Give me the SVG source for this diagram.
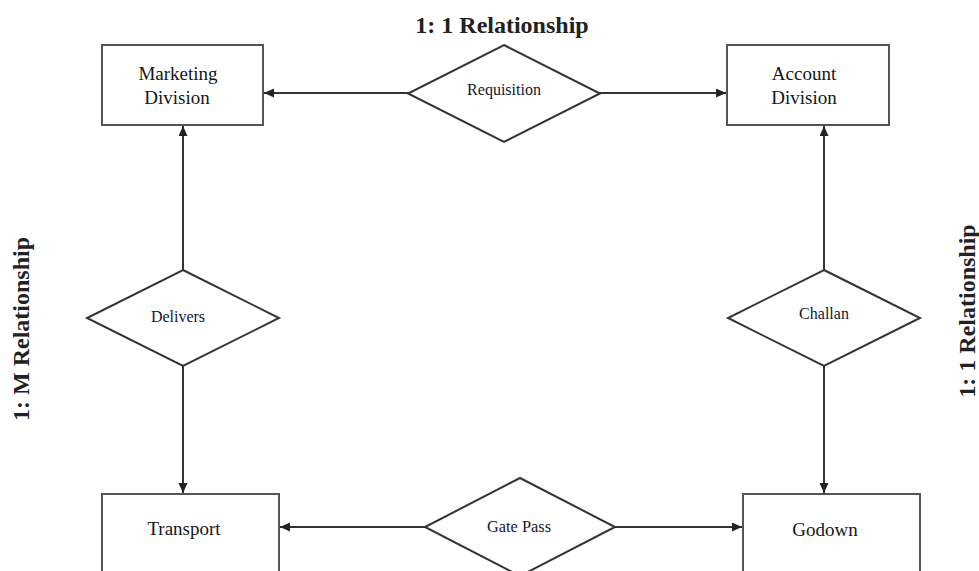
<svg xmlns="http://www.w3.org/2000/svg" width="979" height="571" viewBox="0 0 979 571">
<style>
.box{fill:#fff;stroke:#555;stroke-width:2}
.dia{fill:#fff;stroke:#333;stroke-width:2}
.con{stroke:#333;stroke-width:2;fill:none}
.lbl{font-family:"Liberation Serif","Times New Roman",serif;font-size:19px;fill:#151520;text-anchor:middle}
.dl{font-family:"Liberation Serif","Times New Roman",serif;font-size:16px;fill:#151530;text-anchor:middle}
.ttl{font-family:"Liberation Serif","Times New Roman",serif;font-size:24px;font-weight:bold;fill:#222;text-anchor:middle}
</style>
<defs>
<marker id="arr" markerUnits="userSpaceOnUse" markerWidth="11" markerHeight="10" refX="10" refY="4.5" orient="auto">
<path d="M0,0 L10,4.5 L0,9 z" fill="#222"/>
</marker>
</defs>
<rect width="979" height="571" fill="#fff"/>
<text class="ttl" x="502" y="33">1: 1 Relationship</text>
<text class="ttl" transform="translate(29,329) rotate(-90)">1: M Relationship</text>
<text class="ttl" transform="translate(975,311) rotate(-90)">1: 1 Relationship</text>
<g id="connectors">
<line class="con" x1="408" y1="93" x2="264" y2="93" marker-end="url(#arr)"/>
<line class="con" x1="600" y1="93" x2="726" y2="93" marker-end="url(#arr)"/>
<line class="con" x1="183" y1="270" x2="183" y2="126" marker-end="url(#arr)"/>
<line class="con" x1="183" y1="366" x2="183" y2="493" marker-end="url(#arr)"/>
<line class="con" x1="824" y1="270" x2="824" y2="126" marker-end="url(#arr)"/>
<line class="con" x1="824" y1="366" x2="824" y2="493" marker-end="url(#arr)"/>
<line class="con" x1="425" y1="527" x2="280" y2="527" marker-end="url(#arr)"/>
<line class="con" x1="615" y1="527" x2="742" y2="527" marker-end="url(#arr)"/>
</g>
<g id="marketing">
<rect class="box" x="102" y="45" width="161" height="80"/>
<text class="lbl" x="178" y="80">Marketing</text>
<text class="lbl" x="177" y="104">Division</text>
</g>
<g id="account">
<rect class="box" x="727" y="45" width="162" height="80"/>
<text class="lbl" x="804" y="80">Account</text>
<text class="lbl" x="804" y="104">Division</text>
</g>
<g id="transport">
<rect class="box" x="102" y="494" width="177" height="100"/>
<text class="lbl" x="184" y="535">Transport</text>
</g>
<g id="godown">
<rect class="box" x="743" y="494" width="177" height="100"/>
<text class="lbl" x="825" y="536">Godown</text>
</g>
<g id="requisition">
<polygon class="dia" points="504,45 600,93.5 504,142 408,93.5"/>
<text class="dl" x="504" y="95">Requisition</text>
</g>
<g id="delivers">
<polygon class="dia" points="183,270 279,318 183,366 87,318"/>
<text class="dl" x="178" y="322">Delivers</text>
</g>
<g id="challan">
<polygon class="dia" points="824,270 920,318 824,366 728,318"/>
<text class="dl" x="824" y="319">Challan</text>
</g>
<g id="gatepass">
<polygon class="dia" points="520,478 615,527 520,576 425,527"/>
<text class="dl" x="519" y="532" textLength="64" lengthAdjust="spacingAndGlyphs">Gate Pass</text>
</g>
</svg>
